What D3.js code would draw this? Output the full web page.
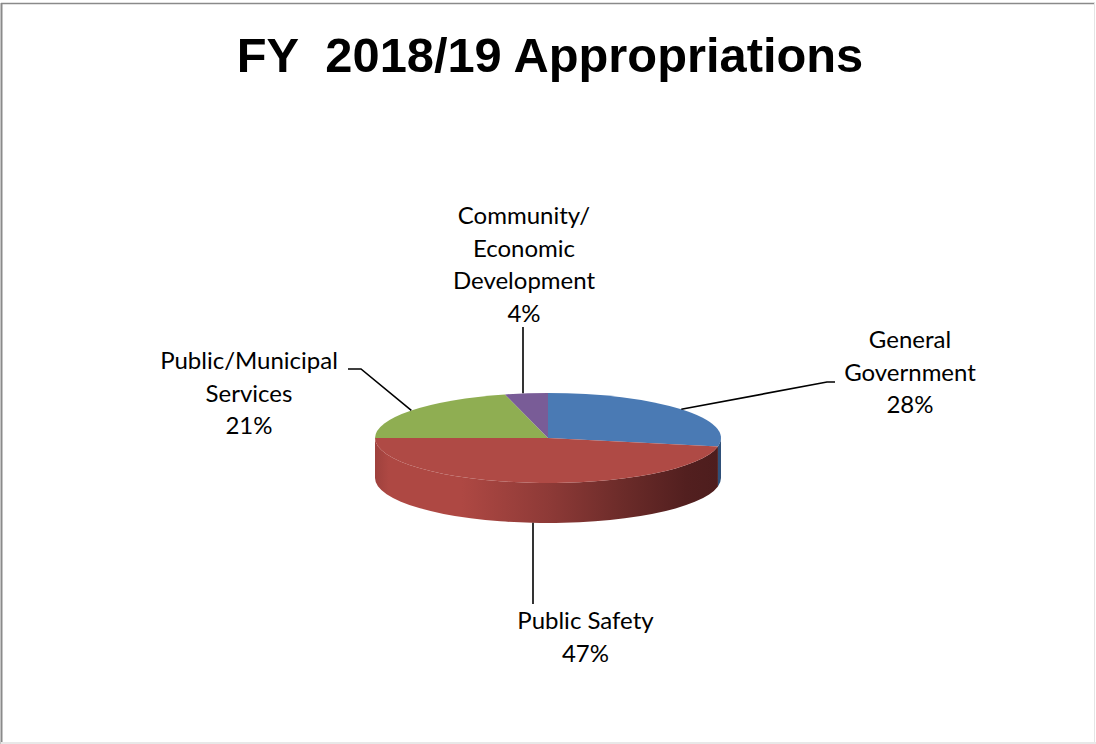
<!DOCTYPE html>
<html>
<head>
<meta charset="utf-8">
<script src="https://cdn.jsdelivr.net/npm/d3@7"></script>
<style>
  html, body { margin: 0; padding: 0; background: #fff; }
  svg { display: block; }
</style>
</head>
<body>
<svg id="chart" width="1096" height="744"></svg>
<script>
// FY 2018/19 appropriations by function
const categories = ["General Government", "Public Safety", "Public/Municipal Services", "Community/Economic Development"];
const shares = [28, 47, 21, 4];
const labelLines = [
  ["General", "Government"],
  ["Public Safety"],
  ["Public/Municipal", "Services"],
  ["Community/", "Economic", "Development"]
];
const title = "FY  2018/19 Appropriations";

const topColors = ["#4A7AB4", "#AF4A45", "#8FAE52", "#795C97"];
const sideColors = ["#2F5079", null, "#5E7433", "#4F3C64"];

const W = 1096, H = 744;
const cx = 548, cy = 438, rx = 173, ry = 45, depth = 40;

const svg = d3.select("#chart");

// frame
svg.append("line").attr("x1", 1.5).attr("y1", 3).attr("x2", 1.5).attr("y2", H).attr("stroke", "#8a8a8a").attr("stroke-width", 2);
svg.append("line").attr("x1", 1).attr("y1", 3.5).attr("x2", W - 1).attr("y2", 3.5).attr("stroke", "#8a8a8a").attr("stroke-width", 1.5);
svg.append("line").attr("x1", W - 1.5).attr("y1", 3).attr("x2", W - 1.5).attr("y2", H).attr("stroke", "#e4e4e4").attr("stroke-width", 1);
svg.append("line").attr("x1", 1).attr("y1", H - 1).attr("x2", W).attr("y2", H - 1).attr("stroke", "#e8e8e8").attr("stroke-width", 2);

// title
svg.append("text")
  .attr("x", 550).attr("y", 72)
  .attr("text-anchor", "middle")
  .attr("font-family", "'Liberation Sans', Arial, sans-serif")
  .attr("font-weight", "bold")
  .attr("font-size", 48.8)
  .style("white-space", "pre")
  .attr("fill", "#000")
  .text(title);

const pie = d3.pie().sort(null).startAngle(0).endAngle(2 * Math.PI);
const arcs = pie(shares);

const pt = (a, dy = 0) => [cx + rx * Math.sin(a), cy - ry * Math.cos(a) + dy];

// gradient for the front wall of the large slice
const defs = svg.append("defs");
const grad = defs.append("linearGradient")
  .attr("id", "wallRed")
  .attr("gradientUnits", "userSpaceOnUse")
  .attr("x1", cx - rx).attr("y1", 0).attr("x2", cx + rx).attr("y2", 0);
[[0, "#9E413D"], [0.04, "#AE4843"], [0.25, "#AE4843"], [0.5, "#8E3A37"],
 [0.72, "#6B2B29"], [0.9, "#521F1F"], [1, "#4D1D1D"]]
  .forEach(([o, c]) => grad.append("stop").attr("offset", o).attr("stop-color", c));

// side walls (front-facing half only: angles PI/2 .. 3PI/2)
const walls = svg.append("g");
arcs.forEach((d, i) => {
  const s = Math.max(d.startAngle, Math.PI / 2);
  const e = Math.min(d.endAngle, 3 * Math.PI / 2);
  if (s >= e) return;
  const p0 = pt(s), p1 = pt(e), q1 = pt(e, depth), q0 = pt(s, depth);
  const path = `M${p0}A${rx},${ry} 0 0 1 ${p1}L${q1}A${rx},${ry} 0 0 0 ${q0}Z`;
  walls.append("path")
    .attr("d", path)
    .attr("fill", i === 1 ? "url(#wallRed)" : sideColors[i]);
});

// top faces: circular arcs squashed into the ellipse
const arcGen = d3.arc().innerRadius(0).outerRadius(rx);
svg.append("g")
  .attr("transform", `translate(${cx},${cy}) scale(1,${ry / rx})`)
  .selectAll("path")
  .data(arcs)
  .join("path")
  .attr("d", arcGen)
  .attr("fill", (d, i) => topColors[i]);

// labels and leader lines
const fontFamily = "Lato, Carlito, Calibri, sans-serif";
const fontSize = 24;
const lineGap = 32.6;
// label layout: text centre x, first baseline, leader polyline end points
const layout = [
  { x: 910, y: 348, side: "top", leader: [[827, 382], [835, 382]] },
  { x: 585.5, y: 629, side: "bottom", leader: [[533, 604]] },
  { x: 249, y: 369, side: "top", leader: [[361, 369], [348, 369]] },
  { x: 524, y: 224, side: "top", leader: [[523, 327]] }
];

const lg = svg.append("g").attr("fill", "none").attr("stroke", "#000").attr("stroke-width", 1.6);
arcs.forEach((d, i) => {
  const mid = (d.startAngle + d.endAngle) / 2;
  const L = layout[i];
  const anchor = L.side === "bottom" ? pt(mid, depth) : pt(mid);
  let pts = [anchor, ...L.leader];
  if (L.leader.length === 1) pts = [[L.leader[0][0], anchor[1]], L.leader[0]];
  lg.append("path").attr("d", d3.line()(pts));

  const lines = [...labelLines[i], `${shares[i]}%`];
  const t = svg.append("text")
    .attr("font-family", fontFamily)
    .attr("font-size", fontSize)
    .attr("fill", "#000")
    .attr("text-anchor", "middle");
  lines.forEach((s, k) => {
    t.append("tspan").attr("x", L.x).attr("y", L.y + k * lineGap).text(s);
  });
});
</script>
</body>
</html>
